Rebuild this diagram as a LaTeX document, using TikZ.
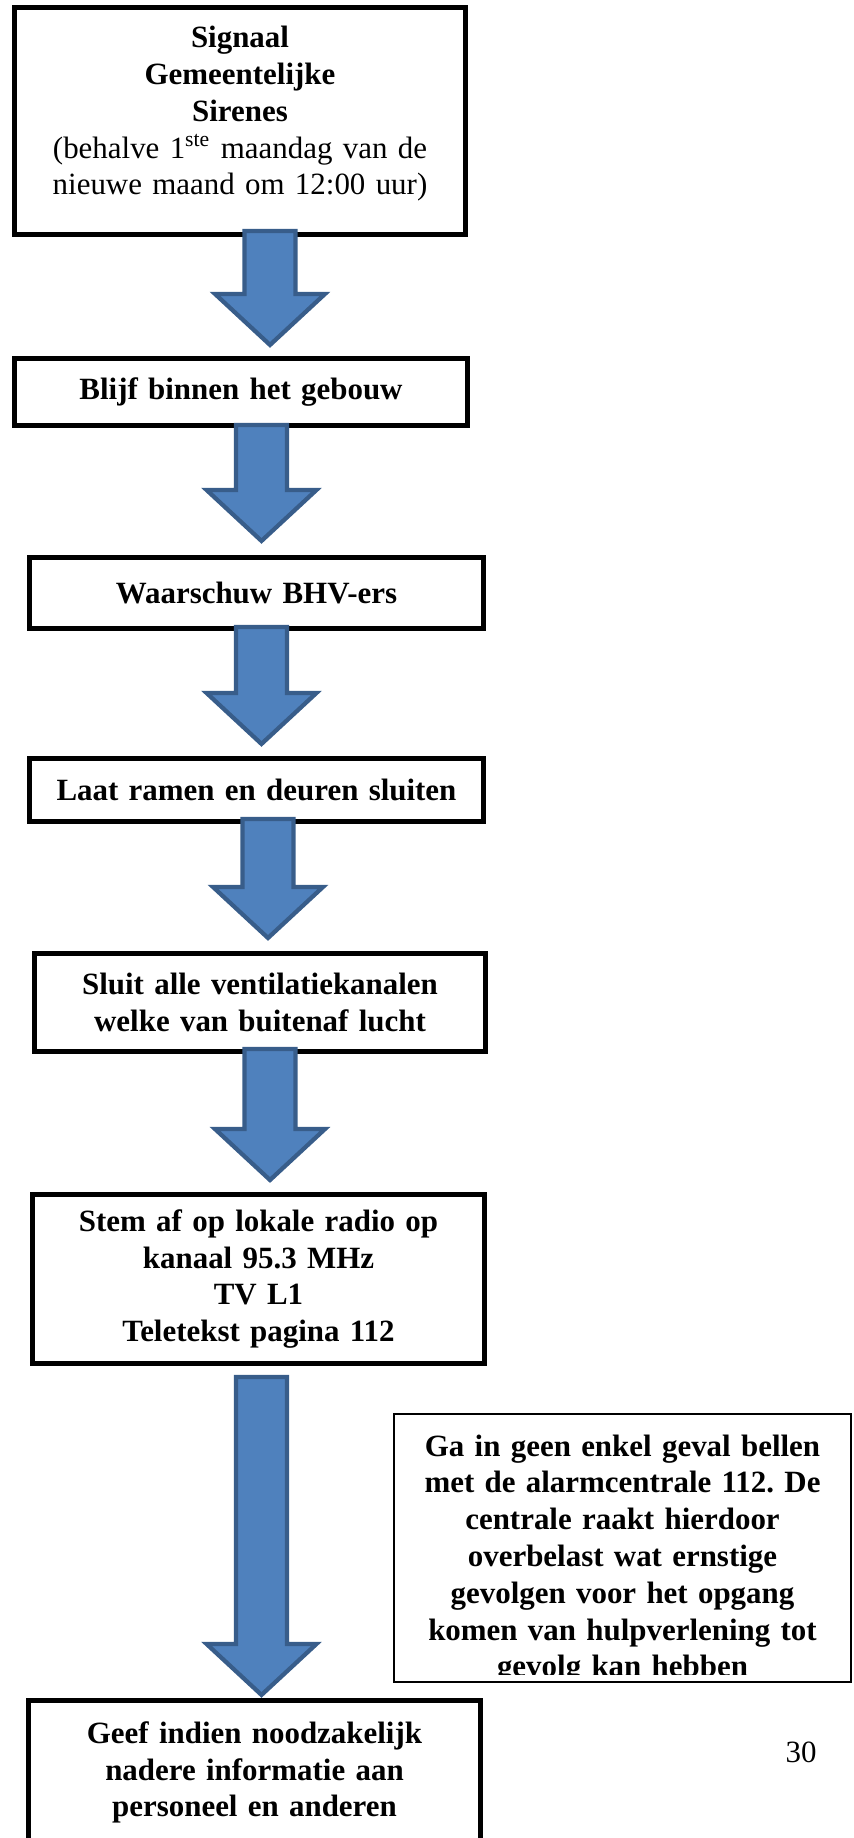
\documentclass[tikz,border=0pt]{standalone}
\usepackage{fontspec}
\setmainfont{Liberation Serif}
\usetikzlibrary{calc}
\definecolor{pijlblauw}{HTML}{4F81BD}
\definecolor{pijlrand}{HTML}{385D8A}
\frenchspacing

\begin{document}
\begin{tikzpicture}[x=0.375pt, y=-0.375pt,
  blok/.style={draw, line width=1.75pt, fill=white, inner sep=0pt, text width=160pt, align=center,
    font=\fontsize{11.6pt}{13.8pt}\selectfont\bfseries},
  pijl/.style={draw=pijlrand, fill=pijlblauw, line width=1.6pt}]
\clip (0,0) rectangle (853,1838);
% stappen
\node[blok, minimum width=169.3pt, minimum height=85.3pt] (b1) at (240,121)
  {Signaal\\Gemeentelijke\\Sirenes\\\mdseries(behalve 1\textsuperscript{ste} maandag van de\\nieuwe maand om 12:00 uur)\par\kern5.3pt\hrule height 0pt};
\node[blok, minimum width=170pt, minimum height=25.3pt] (b2) at (241,392) {Blijf binnen het gebouw};
\node[blok, minimum width=170.4pt, minimum height=26.8pt] (b3) at (256.5,593) {Waarschuw BHV-ers};
\node[blok, minimum width=170.4pt, minimum height=23.8pt] (b4) at (256.5,790) {Laat ramen en deuren sluiten};
\node[blok, minimum width=169.3pt, minimum height=36.9pt] (b5) at (260,1002.5)
  {Sluit alle ventilatiekanalen\\welke van buitenaf lucht};
\node[blok, minimum width=169.7pt, minimum height=63.5pt] (b6) at (258.5,1279)
  {Stem af op lokale radio op\\kanaal 95.3 MHz\\TV L1\\Teletekst pagina 112};
\node[blok, minimum width=169.7pt, minimum height=54.2pt] (b7) at (254.5,1772.5)
  {Geef indien noodzakelijk\\nadere informatie aan\\personeel en anderen};
% blokpijlen
\foreach \van/\naar/\dx/\op/\gat in {b1/b2/30/-6/-11, b2/b3/20.5/-3/-14, b3/b4/5/-4/-12,
    b4/b5/11.5/-5/-13, b5/b6/10/-5/-12, b6/b7/3/11/-3} {
  \coordinate (pijltop) at ($(\van.south)+(\dx,\op)$);
  \coordinate (pijlpunt) at ($(pijltop |- \naar.north)+(0,\gat)$);
  \draw[pijl] ($(pijltop)+(-25.5,0)$) -- ($(pijltop)+(25.5,0)$) -- ($(pijlpunt)+(25.5,-51)$)
    -- ($(pijlpunt)+(55,-51)$) -- (pijlpunt) -- ($(pijlpunt)+(-55,-51)$) -- ($(pijlpunt)+(-25.5,-51)$) -- cycle;
}
% opmerking
\node[draw, line width=0.75pt, inner sep=0pt, minimum width=171.4pt, minimum height=100.5pt] (notitie) at (622.5,1548) {};
\begin{scope}
\clip ($(notitie.south west)+(0,-9)$) rectangle (notitie.north east);
\node[anchor=north, inner sep=0pt, text width=165pt, align=center,
  font=\fontsize{11.6pt}{13.8pt}\selectfont\bfseries] (notitietekst) at (622.5,1434)
  {Ga in geen enkel geval bellen\\met de alarmcentrale 112. De\\centrale raakt hierdoor\\overbelast wat ernstige\\gevolgen voor het opgang\\komen van hulpverlening tot\\gevolg kan hebben};
\end{scope}
\node[font=\fontsize{11.6pt}{13.8pt}\selectfont] (paginanummer) at (801,1752) {30};
\end{tikzpicture}
\end{document}
